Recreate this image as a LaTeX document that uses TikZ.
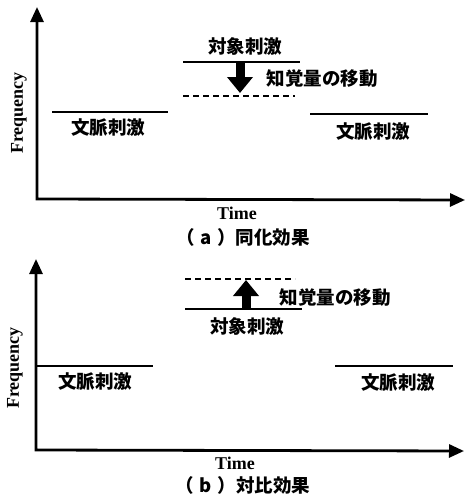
\documentclass[tikz,border=0pt]{standalone}
\usepackage{fontspec}
\setmainfont{Liberation Serif}
\newfontfamily\jp{Noto Sans CJK JP}
\usetikzlibrary{arrows.meta}
\begin{document}
\begin{tikzpicture}[x=1pt,y=-1pt,
  jl/.style={font=\jp\bfseries\fontsize{18.5}{18.5}\selectfont, inner sep=0pt},
  el/.style={font=\bfseries\fontsize{18}{18}\selectfont, inner sep=0pt},
  axis/.style={line width=2.8pt, {Triangle[length=15pt,width=13pt]}-{Triangle[length=15pt,width=13pt]}},
  lvl/.style={line width=1.4pt},
  dsh/.style={line width=1.4pt, dash pattern=on 6pt off 4pt},
  fat/.style={line width=9pt, -{Triangle[length=16pt,width=25pt]}}]
\useasboundingbox (0,0) rectangle (467,498);
% ---------- panel (a) ----------
\coordinate (ya) at (37,7);
\coordinate (oa) at (37,199);
\coordinate (xa) at (465,200);
\draw[axis] (ya) -- (oa) -- (xa);
\node[el, rotate=90] (freqa) at (19,113) {Frequency};
\node[el] (timea) at (237,213) {Time};
\node[jl] (capa) at (243,237) {（\hspace{0.3em}a\hspace{0.3em}）同化効果};
\coordinate (cal1) at (52,112); \coordinate (cal2) at (168,112);
\draw[lvl] (cal1) -- (cal2);
\node[jl] (ctxal) at (108,128) {文脈刺激};
\coordinate (car1) at (310,114); \coordinate (car2) at (428,114);
\draw[lvl] (car1) -- (car2);
\node[jl] (ctxar) at (373,132) {文脈刺激};
\coordinate (ta1) at (183,62); \coordinate (ta2) at (300,62);
\draw[lvl] (ta1) -- (ta2);
\node[jl] (tgta) at (245,47) {対象刺激};
\coordinate (da1) at (183,96); \coordinate (da2) at (295,96);
\draw[dsh] (da1) -- (da2);
\coordinate (aa1) at (240,62); \coordinate (aa2) at (240,93);
\draw[fat] (aa1) -- (aa2);
\node[jl] (mova) at (322,79) {知覚量の移動};
% ---------- panel (b) ----------
\coordinate (yb) at (36,259);
\coordinate (ob) at (36,450);
\coordinate (xb) at (464,451);
\draw[axis] (yb) -- (ob) -- (xb);
\node[el, rotate=90] (freqb) at (15,368) {Frequency};
\node[el] (timeb) at (235,463) {Time};
\node[jl] (capb) at (243,485) {（\hspace{0.3em}b\hspace{0.3em}）対比効果};
\coordinate (cbl1) at (36,366); \coordinate (cbl2) at (153,366);
\draw[lvl] (cbl1) -- (cbl2);
\node[jl] (ctxbl) at (95,382) {文脈刺激};
\coordinate (cbr1) at (335,366); \coordinate (cbr2) at (453,366);
\draw[lvl] (cbr1) -- (cbr2);
\node[jl] (ctxbr) at (398,383) {文脈刺激};
\coordinate (tb1) at (185,309); \coordinate (tb2) at (302,309);
\draw[lvl] (tb1) -- (tb2);
\node[jl] (tgtb) at (247,327) {対象刺激};
\coordinate (db1) at (185,279); \coordinate (db2) at (295,279);
\draw[dsh] (db1) -- (db2);
\coordinate (ab1) at (246,309); \coordinate (ab2) at (246,280);
\draw[fat] (ab1) -- (ab2);
\node[jl] (movb) at (335,298) {知覚量の移動};
\end{tikzpicture}
\end{document}
